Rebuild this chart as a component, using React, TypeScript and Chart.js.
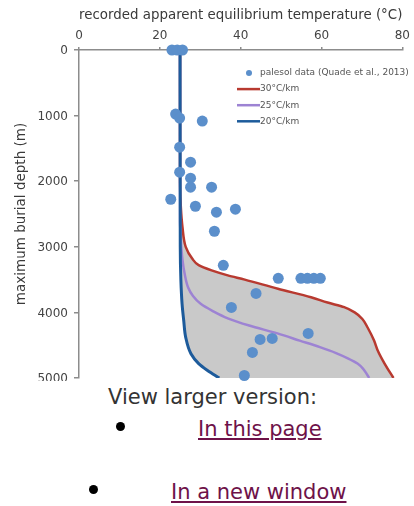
import React, { useEffect, useRef } from "react";
import { Chart, registerables } from "chart.js";

Chart.register(...registerables);

const FONT = "'DejaVu Sans', sans-serif";

// ---- text ----
const xTitle = "recorded apparent equilibrium temperature (°C)";
const yTitle = "maximum burial depth (m)";
const seriesLabels = ["palesol data (Quade et al., 2013)", "30°C/km", "25°C/km", "20°C/km"];

// ---- tick values ----
const tempTicks = [0, 20, 40, 60, 80];
const depthTicks = [0, 1000, 2000, 3000, 4000, 5000];

// ---- paleosol data (temperature °C, depth m) ----
const paleosolTemp = [23.0, 24.3, 25.6, 23.9, 24.9, 30.5, 24.9, 27.6, 24.9, 27.6, 27.6, 32.8, 22.7, 28.8, 34.0, 38.7, 33.5, 35.7, 49.3, 54.9, 56.5, 58.1, 59.7, 43.8, 37.7, 56.7, 44.8, 47.8, 42.9, 40.9];
const paleosolDepth = [0, 0, 0, 977, 1038, 1084, 1481, 1710, 1863, 1954, 2092, 2092, 2275, 2382, 2473, 2427, 2763, 3282, 3481, 3481, 3481, 3481, 3481, 3710, 3924, 4321, 4412, 4397, 4611, 4962];

// ---- 30°C/km curve ----
const depth30 = [0, 2000, 2400, 2700, 3000, 3180, 3280, 3360, 3435, 3500, 3640, 3770, 3850, 3920, 4000, 4100, 4230, 4430, 4580, 4780, 5000];
const temp30 = [25, 25, 25.2, 25.6, 26.4, 28.0, 29.6, 32.8, 36.8, 41.0, 49.2, 57.4, 61.5, 65.6, 68.2, 70.1, 71.4, 73.0, 73.9, 75.6, 77.8];

// ---- 25°C/km curve ----
const depth25 = [0, 2600, 2900, 3200, 3400, 3620, 3750, 3870, 3980, 4090, 4200, 4320, 4430, 4530, 4620, 4700, 4780, 4860, 4950, 5000];
const temp25 = [25, 25, 25.2, 25.6, 26.1, 27.0, 28.2, 30.1, 33.1, 36.8, 42.1, 49.1, 54.6, 59.6, 63.6, 66.5, 68.9, 70.3, 71.3, 71.8];

// ---- 20°C/km curve ----
const depth20 = [0, 3000, 3500, 3870, 4120, 4380, 4630, 4780, 4885, 5000];
const temp20 = [25, 25.05, 25.2, 25.5, 25.9, 26.4, 27.7, 29.6, 31.8, 34.7];

const toPoints = (temps: number[], depths: number[]) =>
  temps.map((t, i) => ({ x: t, y: depths[i] }));

const insetLegend = {
  id: "insetLegend",
  afterDatasetsDraw(chart: any) {
    const { ctx, chartArea } = chart;
    const x0 = chartArea.left + 158;
    ctx.save();
    ctx.font = `9px ${FONT}`;
    ctx.textBaseline = "middle";
    ctx.textAlign = "left";
    chart.data.datasets.forEach((ds: any, i: number) => {
      const y = chartArea.top + 23 + i * 16.1;
      if (i === 0) {
        ctx.fillStyle = ds.pointBackgroundColor;
        ctx.beginPath();
        ctx.arc(chartArea.left + 170, y, 3, 0, Math.PI * 2);
        ctx.fill();
      } else {
        ctx.strokeStyle = ds.borderColor;
        ctx.lineWidth = 2.5;
        ctx.beginPath();
        ctx.moveTo(x0, y);
        ctx.lineTo(x0 + 23, y);
        ctx.stroke();
      }
      ctx.fillStyle = "#555";
      ctx.fillText(ds.label, x0 + 23, y);
    });
    ctx.restore();
  },
};

export default function App() {
  const ref = useRef<HTMLCanvasElement>(null);

  useEffect(() => {
    if (!ref.current) return;
    const chart = new Chart(ref.current, {
      type: "line",
      data: {
        datasets: [
          {
            label: seriesLabels[0],
            data: toPoints(paleosolTemp, paleosolDepth),
            showLine: false,
            pointRadius: 5.5,
            pointHoverRadius: 5.5,
            pointBackgroundColor: "#5b8fcb",
            pointBorderWidth: 0,
            backgroundColor: "#5b8fcb",
            borderColor: "#5b8fcb",
            fill: false,
            clip: false,
            order: 0,
          },
          {
            label: seriesLabels[1],
            data: toPoints(temp30, depth30),
            borderColor: "#b83a30",
            borderWidth: 2.5,
            pointRadius: 0,
            backgroundColor: "#c9c9c9",
            fill: 3,
            cubicInterpolationMode: "monotone",
            order: 3,
          },
          {
            label: seriesLabels[2],
            data: toPoints(temp25, depth25),
            borderColor: "#9d83d3",
            borderWidth: 2.5,
            pointRadius: 0,
            fill: false,
            cubicInterpolationMode: "monotone",
            order: 2,
          },
          {
            label: seriesLabels[3],
            data: toPoints(temp20, depth20),
            borderColor: "#1d5b9b",
            borderWidth: 3,
            pointRadius: 0,
            fill: false,
            cubicInterpolationMode: "monotone",
            order: 1,
          },
        ],
      } as any,
      options: {
        responsive: false,
        animation: false,
        indexAxis: "y",
        events: [],
        layout: { padding: { top: 0, left: 0, right: 10, bottom: 22 } },
        plugins: {
          legend: { display: false },
          tooltip: { enabled: false },
          filler: { drawTime: "beforeDatasetsDraw" },
        },
        scales: {
          x: {
            type: "linear",
            position: "top",
            min: tempTicks[0],
            max: tempTicks[tempTicks.length - 1],
            afterBuildTicks: (s: any) => {
              s.ticks = tempTicks.map((v) => ({ value: v }));
            },
            afterFit: (s: any) => {
              s.height = 50;
            },
            ticks: {
              font: { family: FONT, size: 12 },
              color: "#444",
              padding: 4,
              maxRotation: 0,
              callback: (v: any) => String(v),
            },
            grid: {
              drawOnChartArea: false,
              drawTicks: true,
              tickLength: 3,
              color: "#8c8c8c",
              lineWidth: 1.5,
            },
            border: { display: true, color: "#8c8c8c", width: 1.5 },
            title: {
              display: true,
              text: xTitle,
              font: { family: FONT, size: 13.5 },
              color: "#3a3a3a",
              padding: { top: 7, bottom: 0 },
            },
          },
          y: {
            type: "linear",
            position: "left",
            reverse: true,
            min: depthTicks[0],
            max: depthTicks[depthTicks.length - 1],
            afterBuildTicks: (s: any) => {
              s.ticks = depthTicks.map((v) => ({ value: v }));
            },
            afterFit: (s: any) => {
              s.width = 79;
            },
            ticks: {
              font: { family: FONT, size: 12 },
              color: "#444",
              padding: 6,
              labelOffset: 1,
              callback: (v: any) => String(v),
            },
            grid: {
              drawOnChartArea: false,
              drawTicks: true,
              tickLength: 5,
              color: "#8c8c8c",
              lineWidth: 1.5,
            },
            border: { display: true, color: "#8c8c8c", width: 1.5 },
            title: {
              display: true,
              text: yTitle,
              font: { family: FONT, size: 13.5 },
              color: "#3a3a3a",
              padding: { top: 13, bottom: 0 },
            },
          },
        },
      } as any,
      plugins: [insetLegend],
    });
    return () => chart.destroy();
  }, []);

  const linkStyle: React.CSSProperties = {
    color: "#6e1249",
    textDecoration: "underline",
  };

  return (
    <div
      style={{
        position: "absolute",
        left: 0,
        top: 0,
        width: 414,
        height: 506,
        fontFamily: FONT,
        overflow: "hidden",
      }}
    >
      <div style={{ position: "absolute", left: 0, top: 0, width: 414, height: 381, overflow: "hidden" }}>
        <canvas
          ref={ref}
          width={414}
          height={400}
          style={{ display: "block", width: "414px", height: "400px" }}
        />
      </div>
      <div
        style={{
          position: "absolute",
          left: 108,
          top: 384.7,
          fontSize: 21,
          lineHeight: "24px",
          color: "#333",
          whiteSpace: "nowrap",
        }}
      >
        View larger version:
      </div>
      <div
        style={{
          position: "absolute",
          left: 116,
          top: 422.2,
          width: 9,
          height: 9,
          borderRadius: "50%",
          background: "#000",
        }}
      />
      <div
        style={{
          position: "absolute",
          left: 198,
          top: 417.4,
          fontSize: 21,
          lineHeight: "24px",
          whiteSpace: "nowrap",
        }}
      >
        <a href="#" style={linkStyle}>In this page</a>
      </div>
      <div
        style={{
          position: "absolute",
          left: 89.3,
          top: 485,
          width: 9,
          height: 9,
          borderRadius: "50%",
          background: "#000",
        }}
      />
      <div
        style={{
          position: "absolute",
          left: 171,
          top: 479.7,
          fontSize: 21,
          lineHeight: "24px",
          whiteSpace: "nowrap",
        }}
      >
        <a href="#" style={linkStyle}>In a new window</a>
      </div>
    </div>
  );
}
